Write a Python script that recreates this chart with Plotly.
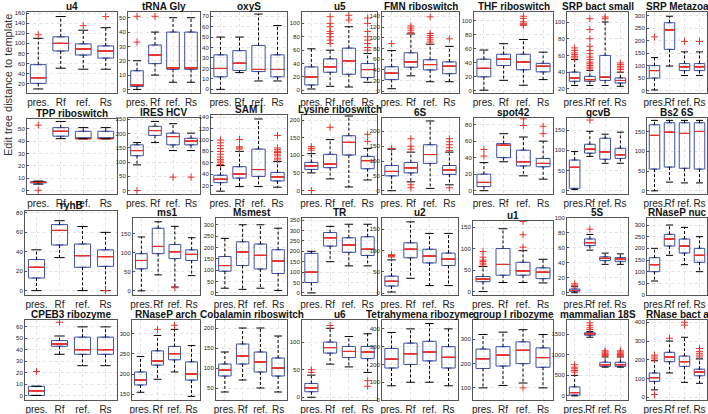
import plotly.graph_objects as go
from plotly.subplots import make_subplots

groups = ["pres.", "Rf", "ref.", "Rs"]

titles = ["u4", "tRNA Gly", "oxyS", "u5", "FMN riboswitch", "THF riboswitch", "SRP bact small", "SRP Metazoa",
          "TPP riboswitch", "IRES HCV", "SAM I", "Lysine riboswitch", "6S", "spot42", "gcvB", "Bs2 6S",
          "ryhB", "ms1", "Msmest", "TR", "u2", "u1", "5S", "RNaseP nuc",
          "CPEB3 ribozyme", "RNaseP arch", "Cobalamin riboswitch", "u6", "Tetrahymena ribozyme",
          "group I ribozyme", "mammalian 18S", "RNase bact a"]

# whisker ends, quartiles, medians (per panel, per group)
lo = [[10, 51, 49, 49], [0, 10, 5, 5], [0, 16, 8, 8], [2, 6, 5, 12], [5, 29, 18, 18], [1, 15, 8, 16],
      [24, 24, 24, 23], [2, 98, 60, 60],
      [5, 42, 42, 42], [90, 168, 140, 140], [10, 18, 18, 17], [50, 33, 10, 30], [0, 30, 8, 20], [0, 35, 18, 14],
      [3, 85, 68, 68], [0, 22, 20, 20],
      [0, 34, 0, 0], [0, 42, 10, 40], [20, 15, 20, 10], [0, 150, 130, 130], [3, 35, 18, 18], [0, 21, 21, 20],
      [0, 57, 38, 38], [60, 170, 130, 100],
      [0, 36, 26, 26], [155, 187, 205, 145], [40, 70, 50, 40], [0, 60, 55, 45], [80, 100, 100, 80],
      [100, 110, 120, 100], [0, 1430, 700, 700], [40, 130, 80, 75]]
q1 = [[21, 85, 77, 71], [2, 18, 14, 14], [12, 18, 17, 12], [8, 27, 24, 19], [22, 45, 40, 33], [20, 36, 30, 27],
      [29, 29, 30, 27], [50, 165, 80, 80],
      [6, 44, 42, 42], [122, 193, 160, 160], [25, 33, 36, 28], [60, 65, 101, 62], [50, 60, 92, 55], [5, 40, 30, 29],
      [6, 93, 78, 80], [55, 60, 57, 55],
      [13, 47, 24, 25], [58, 98, 85, 80], [95, 120, 105, 85], [50, 225, 195, 180], [17, 83, 71, 65], [23, 38, 38, 30],
      [2, 63, 43, 42], [100, 210, 180, 140],
      [0, 43, 36, 36], [173, 222, 235, 185], [80, 110, 90, 80], [10, 80, 72, 70], [180, 200, 220, 180],
      [180, 190, 200, 185], [20, 1480, 720, 720], [85, 190, 165, 115]]
med = [[32, 100, 89, 85], [3, 24, 15, 15], [20, 25, 19, 19], [20, 35, 44, 31], [34, 55, 50, 47], [32, 45, 41, 35],
       [33, 31, 34, 30], [80, 243, 95, 95],
       [6.5, 48, 42, 42], [140, 210, 189, 173], [31, 40, 48, 35], [70, 75, 137, 85], [65, 77, 122, 70], [10, 55, 35, 33],
       [58, 103, 96, 89], [140, 148, 145, 150],
       [24, 62, 36, 35], [80, 117, 103, 96], [120, 180, 165, 140], [100, 265, 230, 210], [28, 103, 87, 80],
       [29, 63, 48, 45], [3, 67, 46, 45], [130, 240, 210, 170],
       [4, 45, 40, 40], [185, 232, 250, 200], [95, 130, 115, 100], [17, 90, 83, 82], [230, 260, 270, 240],
       [220, 235, 255, 225], [80, 1510, 760, 760], [105, 215, 190, 135]]
q3 = [[58, 113, 99, 95], [13, 31, 40, 40], [33, 37, 42, 33], [35, 47, 63, 40], [46, 72, 59, 55], [45, 52, 52, 39],
      [40, 35, 60, 33], [100, 272, 108, 108],
      [7, 51, 48, 48], [160, 225, 201, 183], [38, 53, 84, 43], [80, 103, 156, 97], [85, 95, 155, 85], [20, 57, 49, 39],
      [76, 115, 130, 105], [167, 172, 172, 172],
      [32, 68, 48, 42], [98, 165, 122, 108], [160, 225, 215, 190], [190, 290, 265, 270], [40, 118, 103, 94],
      [35, 100, 68, 55], [5, 72, 48, 47], [160, 260, 240, 200],
      [8, 48, 51, 51], [205, 257, 268, 230], [110, 160, 140, 125], [25, 100, 92, 92], [290, 320, 330, 300],
      [260, 270, 290, 265], [220, 1540, 820, 820], [130, 240, 220, 150]]
hi = [[110, 153, 126, 131], [20, 40, 50, 50], [50, 50, 72, 61], [62, 60, 95, 55], [76, 107, 88, 84], [58, 67, 73, 55],
      [55, 42, 100, 40], [132, 298, 155, 155],
      [7.5, 56, 51, 51], [168, 242, 234, 201], [55, 80, 137, 62], [105, 145, 212, 120], [140, 130, 235, 130],
      [34, 69, 65, 60], [97, 147, 140, 145], [178, 178, 178, 178],
      [42, 72, 66, 60], [142, 182, 170, 140], [240, 300, 300, 285], [200, 320, 330, 330], [78, 167, 140, 140],
      [58, 146, 95, 75], [8, 78, 53, 52], [200, 300, 290, 250],
      [8, 52, 60, 60], [243, 295, 310, 270], [140, 200, 200, 180], [40, 125, 110, 115], [380, 400, 430, 400],
      [320, 330, 340, 320], [500, 1570, 950, 950], [195, 300, 320, 205]]
outliers = [
    [[117], [], [135], [153]],
    [[33, 51], [51], [], []],
    [[], [], [], []],
    [[], [70, 75, 80, 85, 88, 95, 100, 110], [105, 112], [60, 64, 70, 75, 80, 88, 100, 108]],
    [[89], [110, 114, 118, 122], [92, 96, 100, 104, 108, 139], [98]],
    [[], [], [93, 94, 96, 98, 103, 106], []],
    [[57, 59, 61, 63, 66, 69], [44, 46, 48, 50, 52, 55, 58, 62, 66, 71, 80, 91, 104], [104, 106], [43, 45, 47, 49, 51]],
    [[215], [], [197], [197]],
    [[0, 53], [], [], []],
    [[0], [], [47], [47]],
    [[57, 60, 63, 66, 70, 75, 80, 85, 90, 95, 100], [84, 86, 88, 101], [], [65, 68, 72, 75, 78, 80, 83, 86, 108]],
    [[0, 115, 120, 125], [180], [], [140, 160]],
    [[142], [10, 20, 140, 150, 175], [], [10, 135, 145, 155, 165, 175]],
    [[42, 50], [], [79, 87], [69, 78]],
    [[], [175], [], []],
    [[], [], [], []],
    [[], [], [], [0]],
    [[], [], [8], []],
    [[], [], [], []],
    [[], [], [], []],
    [[85, 87, 88, 89, 90], [], [], []],
    [[62, 66, 70, 73, 80, 93], [], [103, 132, 163], []],
    [[10, 12], [85], [], []],
    [[], [], [], []],
    [[21], [64], [], []],
    [[], [310], [320], []],
    [[], [], [], []],
    [[45, 50], [130], [], [20, 30]],
    [[], [], [], []],
    [[], [], [100], []],
    [[580, 620, 660, 700, 760], [1620, 1660, 1720, 1780], [980, 1010, 1040, 1070, 1100], [980, 1010, 1040, 1070, 1100]],
    [[15, 205, 215, 225], [315], [385, 400, 415], [215, 225, 235, 245, 260]],
]

y_ranges = [[2, 162], [-2.5, 54], [-3.5, 74], [-4, 117], [-3, 148], [-3, 112], [15, 112], [-10, 315],
            [-3, 58], [-12, 254], [5, 144], [-10, 215], [-11, 245], [-4, 88], [-8, 180], [-8, 184],
            [-4.5, 82], [-11, 192], [-10, 330], [-10, 360], [-4, 176], [-8, 164], [-3, 100], [0, 330],
            [-4, 66], [136, 333], [20, 220], [-5, 140], [0, 450], [50, 380], [-100, 1850], [-14, 412]]
y_dticks = [20, 10, 10, 20, 20, 20, 20, 50,
            10, 50, 20, 50, 50, 20, 50, 50,
            20, 50, 50, 50, 50, 50, 20, 50,
            10, 50, 50, 50, 100, 100, 500, 100]

# panel frames in pixels: left/right per row, top per panel, bottom per row
W, H = 708, 414
cols_px = [
    [(27, 117), (128, 200), (211, 287), (302, 377), (382, 459), (474, 553), (567, 628), (647, 707)],
    [(27, 117), (128, 200), (211, 287), (302, 377), (382, 459), (474, 553), (567, 628), (647, 707)],
    [(25, 117), (133, 200), (216, 287), (302, 377), (382, 458), (473, 553), (567, 628), (647, 707)],
    [(25, 117), (132, 200), (216, 287), (302, 377), (382, 458), (473, 553), (567, 628), (647, 707)],
]
tops_px = [[12] * 8,
           [119, 118, 115, 115, 118, 118, 118, 118],
           [211, 218, 218, 218, 218, 221, 218, 218],
           [320] * 8]
bottoms_px = [93, 194, 295, 400]

BLUE = "#3f51a3"
RED = "#e8312a"
FONT = "Liberation Sans, Arial, sans-serif"

fig = make_subplots(rows=4, cols=8)

for i in range(32):
    r, c = i // 8, i % 8
    left, right = cols_px[r][c]
    top, bottom = tops_px[r][c], bottoms_px[r]
    ax = "" if i == 0 else str(i + 1)

    # box body
    fig.add_trace(go.Box(x=groups, q1=q1[i], median=med[i], q3=q3[i],
                         lowerfence=q1[i], upperfence=q3[i], width=0.7,
                         line=dict(color=BLUE, width=1), fillcolor="rgba(0,0,0,0)",
                         boxpoints=False, showlegend=False, hoverinfo="skip"),
                  row=r + 1, col=c + 1)
    # median line
    fig.add_trace(go.Box(x=groups, q1=med[i], median=med[i], q3=med[i],
                         lowerfence=med[i], upperfence=med[i], width=0.7,
                         line=dict(color=RED, width=1), fillcolor="rgba(0,0,0,0)",
                         boxpoints=False, showlegend=False, hoverinfo="skip"),
                  row=r + 1, col=c + 1)
    # dashed whiskers
    wx, wy = [], []
    for g, a, b, d, e in zip(groups, lo[i], q1[i], q3[i], hi[i]):
        wx += [g, g, None, g, g, None]
        wy += [d, e, None, b, a, None]
    fig.add_trace(go.Scatter(x=wx, y=wy, mode="lines", line=dict(color="black", width=1, dash="3px,2px"),
                             showlegend=False, hoverinfo="skip"),
                  row=r + 1, col=c + 1)
    # whisker caps
    cap = max(5, 0.32 * (right - left) / 4)
    fig.add_trace(go.Scatter(x=groups + groups, y=lo[i] + hi[i], mode="markers",
                             marker=dict(symbol="line-ew", size=cap, line=dict(color="black", width=1)),
                             showlegend=False, hoverinfo="skip"),
                  row=r + 1, col=c + 1)
    # outliers
    ox, oy = [], []
    for g, vals in zip(groups, outliers[i]):
        ox += [g] * len(vals)
        oy += vals
    if ox:
        fig.add_trace(go.Scatter(x=ox, y=oy, mode="markers",
                                 marker=dict(symbol="cross-thin", size=5, line=dict(color=RED, width=1)),
                                 showlegend=False, hoverinfo="skip"),
                      row=r + 1, col=c + 1)

    fig.layout["xaxis" + ax].update(domain=[left / W, right / W], range=[-0.5, 3.5],
                                    type="category", categoryorder="array", categoryarray=groups,
                                    showline=True, mirror=True, linecolor="#555", linewidth=1,
                                    showgrid=True, gridcolor="#e3e3e3", griddash="dot",
                                    ticks="", tickangle=0, automargin=False,
                                    tickfont=dict(size=10, color="#222", family=FONT), zeroline=False)
    fig.layout["yaxis" + ax].update(domain=[1 - bottom / H, 1 - top / H], range=y_ranges[i],
                                    dtick=y_dticks[i], tick0=0, automargin=False,
                                    showline=True, mirror=True, linecolor="#555", linewidth=1,
                                    showgrid=True, gridcolor="#e3e3e3", griddash="dot",
                                    ticks="inside", ticklen=2, tickcolor="#555",
                                    tickfont=dict(size=6, color="#222"), zeroline=False)
    fig.add_annotation(text="<b>" + titles[i] + "</b>", xref="paper", yref="paper",
                       x=(left + right) / 2 / W, y=1 - (top + 1) / H, xanchor="center", yanchor="bottom",
                       borderpad=0, showarrow=False, font=dict(size=10, color="#111", family=FONT))

fig.add_annotation(text="Edit tree distance to template", xref="paper", yref="paper",
                   x=8 / W, y=1 - 85 / H, xanchor="center", yanchor="middle", textangle=-90, showarrow=False,
                   font=dict(size=11, color="#333", family=FONT))

fig.update_layout(width=W, height=H, margin=dict(l=0, r=0, t=0, b=0),
                  plot_bgcolor="white", paper_bgcolor="white",
                  font=dict(family=FONT), boxmode="overlay")

fig.write_html("out.html", config={"displayModeBar": False},
               post_script="document.body.style.margin='0px';")
